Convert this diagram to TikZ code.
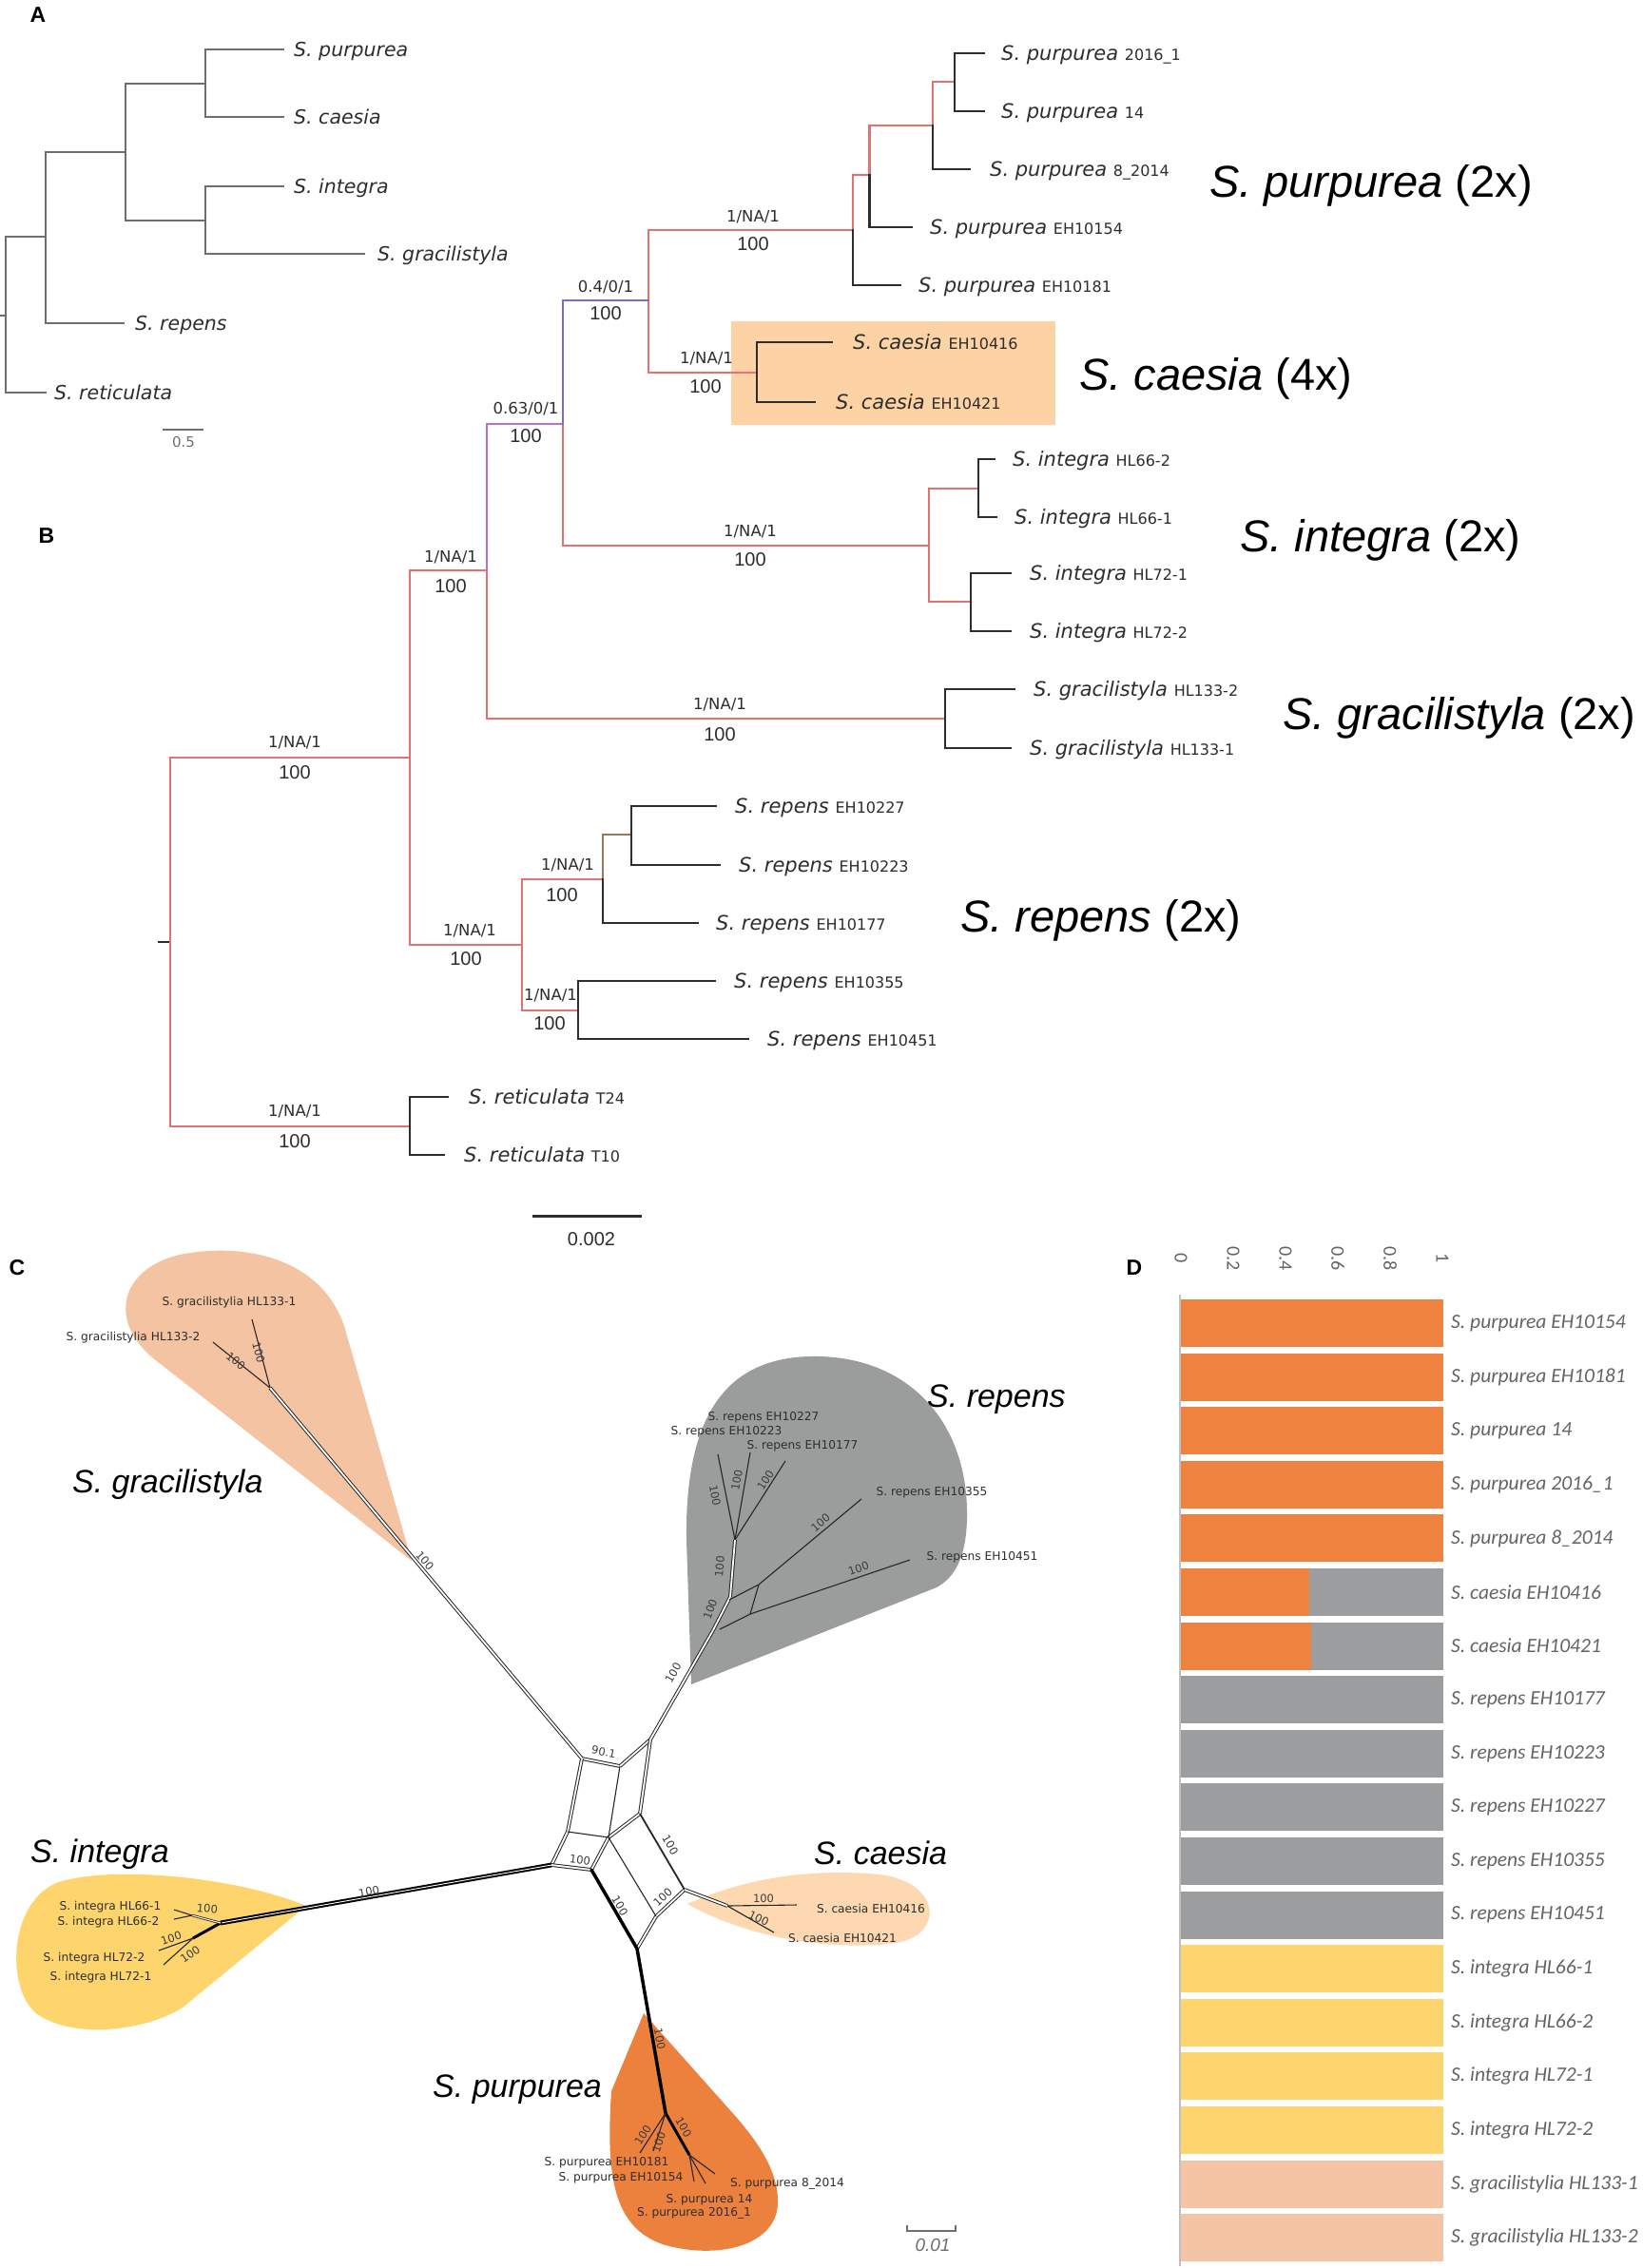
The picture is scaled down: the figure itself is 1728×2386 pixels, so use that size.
\documentclass[tikz,border=0pt]{standalone}
\usepackage{fontspec}
\usepackage{graphicx}
\setmainfont{Liberation Sans}
\newfontfamily\dvf{DejaVu Sans}[ItalicFont={DejaVu Sans Oblique}]
\newfontfamily\carf{Carlito}
\definecolor{tblack}{RGB}{45,45,45}
\definecolor{tred}{RGB}{228,112,112}
\definecolor{tblue}{RGB}{118,110,210}
\definecolor{tmag}{RGB}{182,112,210}
\definecolor{tbrown}{RGB}{150,122,95}
\definecolor{agrey}{RGB}{110,110,110}
\definecolor{boxorange}{RGB}{253,211,165}
\definecolor{corange}{RGB}{236,129,62}
\definecolor{cgrey}{RGB}{155,157,157}
\definecolor{cyellow}{RGB}{253,213,108}
\definecolor{cpeach}{RGB}{244,195,162}
\definecolor{clightpeach}{RGB}{253,216,176}
\definecolor{dorange}{RGB}{238,130,62}
\definecolor{dgrey}{RGB}{155,157,158}
\definecolor{dyellow}{RGB}{253,212,110}
\definecolor{dpeach}{RGB}{244,196,164}
\definecolor{dtext}{RGB}{100,100,100}
\newcommand\spn[2]{{\itshape #1}~{\fontsize{16}{18}\selectfont #2}}
\begin{document}
\begin{tikzpicture}[x=1pt,y=-1pt,
  tl/.style={line width=2.2pt,line cap=rect},
  lineA/.style={line width=2pt,draw=agrey,line cap=rect},
  tipa/.style={anchor=base west,inner sep=0pt,font=\dvf\itshape\fontsize{20.5}{24}\selectfont,text=tblack},
  tipb/.style={anchor=base west,inner sep=0pt,font=\dvf\fontsize{21}{24}\selectfont,text=tblack},
  supp/.style={font=\dvf\fontsize{16.5}{19}\selectfont,text=tblack,inner sep=0pt},
  boot/.style={font=\fontsize{20}{22}\selectfont,text=tblack,inner sep=0pt},
  bigl/.style={anchor=base west,inner sep=0pt,font=\fontsize{47}{52}\selectfont},
  bigc/.style={anchor=base west,inner sep=0pt,font=\itshape\fontsize{34}{38}\selectfont},
  panel/.style={font=\bfseries\fontsize{23}{26}\selectfont,inner sep=0pt},
  csm/.style={font=\dvf\fontsize{12.2}{14}\selectfont,text=tblack,inner sep=0pt},
  cbt/.style={font=\dvf\fontsize{11.5}{13}\selectfont,text={rgb,255:red,60;green,60;blue,60},inner sep=0pt},
  netd/.style={draw=black!85,double=white,double distance=1.8pt,line width=1pt},
  neth/.style={draw=black,line width=3.5pt,line cap=round},
  netthin/.style={draw=black!85,line width=1.1pt},
  dlab/.style={anchor=west,inner sep=0pt,font=\carf\itshape\fontsize{21.5}{24}\selectfont,text=dtext},
  dax/.style={font=\carf\fontsize{20}{22}\selectfont,text=dtext,inner sep=0pt}]
\useasboundingbox (0,0) rectangle (1728,2386);
\fill[white] (0,0) rectangle (1728,2386);

%%%%%%%%%%%%%%%% Panel A
\node[panel] (labA) at (40,16) {A};
\coordinate (aR) at (6,332); \coordinate (aTk) at (0,332);
\coordinate (a1) at (48,249); \coordinate (a2) at (132,160);
\coordinate (a3) at (216,88); \coordinate (a4) at (216,232);
\coordinate (aPur) at (298,52); \coordinate (aCae) at (298,123);
\coordinate (aInt) at (298,196); \coordinate (aGra) at (383,267);
\coordinate (aRep) at (130,340); \coordinate (aRet) at (48,413);
\draw[lineA] (aTk) -- (aR);
\draw[lineA] (aR) |- (a1) (aR) |- (aRet) (a1) |- (a2) (a1) |- (aRep)
  (a2) |- (a3) (a2) |- (a4) (a3) |- (aPur) (a3) |- (aCae) (a4) |- (aInt) (a4) |- (aGra);
\node[tipa] (laPur) at (309,59.5) {S. purpurea};
\node[tipa] (laCae) at (309,130.5) {S. caesia};
\node[tipa] (laInt) at (309,203.5) {S. integra};
\node[tipa] (laGra) at (397,274.5) {S. gracilistyla};
\node[tipa] (laRep) at (142,347.5) {S. repens};
\node[tipa] (laRet) at (57,420.5) {S. reticulata};
\coordinate (asb1) at (171,452); \coordinate (asb2) at (214,452);
\draw[agrey,line width=2pt] (asb1) -- (asb2);
\node[font=\dvf\fontsize{15}{17}\selectfont,text=agrey,inner sep=0pt] (asbl) at (193,465) {0.5};

%%%%%%%%%%%%%%%% Panel B
\node[panel] (labB) at (49,564) {B};
\fill[boxorange] (769,338) rectangle (1110,447);
\coordinate (bR) at (179,991); \coordinate (bTick) at (167,991);
\coordinate (bA) at (431,797); \coordinate (bRet) at (431,1185);
\coordinate (bB) at (512,600); \coordinate (bRep) at (549,994);
\coordinate (bC) at (592,446); \coordinate (bGra) at (994,756);
\coordinate (bD) at (682,316); \coordinate (bInt) at (977,574);
\coordinate (bPur) at (897,242); \coordinate (bCae) at (796,392);
\coordinate (bP2) at (914.5,184); \coordinate (bP3) at (981,132); \coordinate (bP4) at (1004,86);
\coordinate (bI1) at (1029,514); \coordinate (bI2) at (1021,633);
\coordinate (bR1) at (634,925); \coordinate (bR2) at (608,1063); \coordinate (bR3) at (664,878);
\coordinate (t1) at (1035,56); \coordinate (t2) at (1035,117); \coordinate (t3) at (1020,178);
\coordinate (t4) at (959,239); \coordinate (t5) at (947,300); \coordinate (t6) at (875,360);
\coordinate (t7) at (857,423); \coordinate (t8) at (1046,483); \coordinate (t9) at (1048,544);
\coordinate (t10) at (1063,603); \coordinate (t11) at (1063,664); \coordinate (t12) at (1067,725);
\coordinate (t13) at (1063,787); \coordinate (t14) at (753,848); \coordinate (t15) at (757,910);
\coordinate (t16) at (734,971); \coordinate (t17) at (752,1032); \coordinate (t18) at (787,1093);
\coordinate (t19) at (471,1154); \coordinate (t20) at (467,1215);
\draw[tl,tblack] (bTick) -- (bR);
\draw[tl,tred] (bR) |- (bA) (bR) |- (bRet) (bA) |- (bB) (bA) |- (bRep)
  (bB) |- (bGra) (bC) |- (bInt) (bD) |- (bPur) (bD) |- (bCae)
  (bPur) |- (bP2) (bP2) |- (bP3) (bP3) |- (bP4) (bInt) |- (bI1) (bInt) |- (bI2)
  (bRep) |- (bR1) (bRep) |- (bR2);
\draw[tl,tmag] (bB) |- (bC);
\draw[tl,tblue] (bC) |- (bD);
\draw[tl,tbrown] (bR1) |- (bR3);
\draw[tl,tblack] (bPur) |- (t5) (bP2) |- (t4) (bP3) |- (t3) (bP4) |- (t1) (bP4) |- (t2)
  (bCae) |- (t6) (bCae) |- (t7) (bI1) |- (t8) (bI1) |- (t9) (bI2) |- (t10) (bI2) |- (t11)
  (bGra) |- (t12) (bGra) |- (t13) (bR3) |- (t14) (bR3) |- (t15) (bR1) |- (t16)
  (bR2) |- (t17) (bR2) |- (t18) (bRet) |- (t19) (bRet) |- (t20);
% tip labels
\node[tipb] (lb1) at (1053,63.5) {\spn{S. purpurea}{2016\_1}};
\node[tipb] (lb2) at (1053,124.5) {\spn{S. purpurea}{14}};
\node[tipb] (lb3) at (1041,185.5) {\spn{S. purpurea}{8\_2014}};
\node[tipb] (lb4) at (978,246.5) {\spn{S. purpurea}{EH10154}};
\node[tipb] (lb5) at (966,307.5) {\spn{S. purpurea}{EH10181}};
\node[tipb] (lb6) at (897,367.5) {\spn{S. caesia}{EH10416}};
\node[tipb] (lb7) at (879,430.5) {\spn{S. caesia}{EH10421}};
\node[tipb] (lb8) at (1065,490.5) {\spn{S. integra}{HL66-2}};
\node[tipb] (lb9) at (1067,551.5) {\spn{S. integra}{HL66-1}};
\node[tipb] (lb10) at (1083,610.5) {\spn{S. integra}{HL72-1}};
\node[tipb] (lb11) at (1083,671.5) {\spn{S. integra}{HL72-2}};
\node[tipb] (lb12) at (1087,732.5) {\spn{S. gracilistyla}{HL133-2}};
\node[tipb] (lb13) at (1083,794.5) {\spn{S. gracilistyla}{HL133-1}};
\node[tipb] (lb14) at (773,855.5) {\spn{S. repens}{EH10227}};
\node[tipb] (lb15) at (777,917.5) {\spn{S. repens}{EH10223}};
\node[tipb] (lb16) at (753,978.5) {\spn{S. repens}{EH10177}};
\node[tipb] (lb17) at (772,1039.5) {\spn{S. repens}{EH10355}};
\node[tipb] (lb18) at (807,1100.5) {\spn{S. repens}{EH10451}};
\node[tipb] (lb19) at (493,1161.5) {\spn{S. reticulata}{T24}};
\node[tipb] (lb20) at (488,1222.5) {\spn{S. reticulata}{T10}};
% support labels
\node[supp] (s1) at (637,302) {0.4/0/1}; \node[boot] (bt1) at (637,330) {100};
\node[supp] (s2) at (553,430) {0.63/0/1}; \node[boot] (bt2) at (553,459) {100};
\node[supp] (s3) at (792,228) {1/NA/1}; \node[boot] (bt3) at (792,257) {100};
\node[supp] (s4) at (743,377) {1/NA/1}; \node[boot] (bt4) at (742,407) {100};
\node[supp] (s5) at (789,559) {1/NA/1}; \node[boot] (bt5) at (789,589) {100};
\node[supp] (s6) at (474,586) {1/NA/1}; \node[boot] (bt6) at (474,617) {100};
\node[supp] (s7) at (757,741) {1/NA/1}; \node[boot] (bt7) at (757,773) {100};
\node[supp] (s8) at (310,781) {1/NA/1}; \node[boot] (bt8) at (310,813) {100};
\node[supp] (s9) at (494,979) {1/NA/1}; \node[boot] (bt9) at (490,1009) {100};
\node[supp] (s10) at (597,910) {1/NA/1}; \node[boot] (bt10) at (591,942) {100};
\node[supp] (s11) at (579,1047) {1/NA/1}; \node[boot] (bt11) at (578,1077) {100};
\node[supp] (s12) at (310,1169) {1/NA/1}; \node[boot] (bt12) at (310,1201) {100};
% big labels
\node[bigl] (gb1) at (1272,207) {{\itshape S. purpurea} (2x)};
\node[bigl] (gb2) at (1135,410) {{\itshape S. caesia} (4x)};
\node[bigl] (gb3) at (1304,580) {{\itshape S. integra} (2x)};
\node[bigl] (gb4) at (1349,767) {{\itshape S. gracilistyla} (2x)};
\node[bigl] (gb5) at (1010,980) {{\itshape S. repens} (2x)};
% scale
\coordinate (bsb1) at (560,1279); \coordinate (bsb2) at (675,1279);
\draw[tblack,line width=3pt] (bsb1) -- (bsb2);
\node[boot] (bsbl) at (622,1304) {0.002};

%%%%%%%%%%%%%%%% Panel C
\node[panel] (labC) at (18,1334) {C};
\fill[cpeach] (433,1642) -- (362,1395) .. controls (340,1330) and (270,1308) .. (200,1318)
  .. controls (130,1328) and (110,1385) .. (160,1428) -- cycle;
\fill[cgrey] (727,1772) -- (722,1620) .. controls (720,1480) and (770,1430) .. (850,1427)
  .. controls (950,1424) and (1015,1490) .. (1017,1588) .. controls (1018,1640) and (1003,1660) .. (985,1670) -- cycle;
\fill[clightpeach] (723,2003) .. controls (790,1973) and (860,1966) .. (925,1972)
  .. controls (992,1980) and (995,2040) .. (935,2045) .. controls (860,2052) and (780,2035) .. (723,2003) -- cycle;
\fill[cyellow] (322,2005) .. controls (250,1975) and (120,1962) .. (62,1980)
  .. controls (10,1998) and (5,2090) .. (38,2118) .. controls (75,2145) and (150,2138) .. (192,2112) -- cycle;
\fill[corange] (677,2118) -- (643,2200) .. controls (637,2290) and (645,2345) .. (700,2362)
  .. controls (760,2378) and (817,2360) .. (818,2318) .. controls (819,2285) and (798,2255) .. (775,2228) -- cycle;
% network nodes
\coordinate (G) at (612,1850); \coordinate (P) at (652,1858); \coordinate (Rj) at (684,1830);
\coordinate (Q) at (673,1908); \coordinate (H) at (597,1927); \coordinate (M) at (640,1933);
\coordinate (L) at (580,1962); \coordinate (K) at (622,1967); \coordinate (Cc) at (720,1988);
\coordinate (Dd) at (690,2016); \coordinate (Bb) at (670,2050);
\coordinate (GN) at (284,1460); \coordinate (RN) at (750,1715); \coordinate (IN) at (232,2023);
\coordinate (CN) at (765,2005); \coordinate (PN) at (700,2223);
\draw[netd] (G) -- (P); \draw[netd] (P) -- (Rj); \draw[netd] (Rj) -- (Q);
\draw[netd] (G) -- (H); \draw[netd] (H) -- (L); \draw[netd] (L) -- (K);
\draw[netd] (M) -- (K); \draw[netd] (Q) -- (M); \draw[netd] (Cc) -- (Dd); \draw[netd] (Bb) -- (Dd);
\draw[netthin] (P) -- (M); \draw[netthin] (H) -- (M); \draw[netthin] (M) -- (Dd);
\draw[netthin,line width=1.8pt] (Q) -- (Cc);
\draw[neth] (K) -- (Bb); \draw[neth] (Bb) -- (PN);
\draw[netd] (G) -- (GN);
\draw[netd] (Rj) -- (RN);
\draw[netd,draw=black,line width=2pt,double distance=0.9pt] (L) -- (IN);
\draw[netd] (Cc) -- (CN);
% gracilistyla tips
\coordinate (gt1) at (265,1388); \coordinate (gt2) at (224,1412);
\draw[netthin] (GN) -- (gt1); \draw[netthin] (GN) -- (gt2);
% repens
\coordinate (RN2) at (768,1680); \coordinate (RN3) at (773,1620);
\coordinate (rt1) at (755,1530); \coordinate (rt2) at (789,1528); \coordinate (rt3) at (826,1537);
\coordinate (rb1) at (767,1683); \coordinate (rb2) at (798,1667); \coordinate (rb3) at (789,1698);
\coordinate (rb4) at (757,1714); \coordinate (rt4) at (906,1577); \coordinate (rt5) at (957,1641);
\draw[netd] (RN) -- (RN2); \draw[netd] (RN2) -- (RN3);
\draw[netthin] (RN3) -- (rt1); \draw[netthin] (RN3) -- (rt2); \draw[netthin] (RN3) -- (rt3);
\draw[netthin] (rb1) -- (rb2) -- (rt4); \draw[netthin] (rb4) -- (rb3) -- (rt5); \draw[netthin] (rb2) -- (rb3);
% caesia
\coordinate (ct1) at (838,2004); \coordinate (ct2) at (814,2033);
\draw[netthin] (CN) -- (ct1); \draw[netthin] (CN) -- (ct2);
% purpurea
\coordinate (PN2) at (725,2267); \coordinate (pt1) at (673,2265); \coordinate (pt2) at (687,2263);
\coordinate (pt3) at (752,2287); \coordinate (pt4) at (742,2297); \coordinate (pt5) at (730,2295);
\draw[neth,line width=3pt] (PN) -- (PN2);
\draw[netthin] (PN) -- (pt1); \draw[netthin] (PN) -- (pt2);
\draw[netthin] (PN2) -- (pt3); \draw[netthin] (PN2) -- (pt4); \draw[netthin] (PN2) -- (pt5);
% integra
\coordinate (IN2) at (203,2039); \coordinate (ib) at (202,2015);
\coordinate (it1) at (183,2009); \coordinate (it2) at (183,2019);
\coordinate (it3) at (167,2052); \coordinate (it4) at (172,2067);
\draw[neth,line width=3pt] (IN) -- (IN2);
\draw[netd,line width=0.8pt,double distance=1pt] (IN) -- (ib);
\draw[netthin] (ib) -- (it1); \draw[netthin] (ib) -- (it2);
\draw[netthin] (IN2) -- (it3); \draw[netthin] (IN2) -- (it4);
% small labels
\node[csm] (cl1) at (241,1370) {S. gracilistylia HL133-1};
\node[csm] (cl2) at (140,1407) {S. gracilistylia HL133-2};
\node[csm] (cl3) at (803,1491) {S. repens EH10227};
\node[csm] (cl4) at (764,1506) {S. repens EH10223};
\node[csm] (cl5) at (844,1521) {S. repens EH10177};
\node[csm] (cl6) at (980,1570) {S. repens EH10355};
\node[csm] (cl7) at (1033,1638) {S. repens EH10451};
\node[csm] (cl8) at (916,2008) {S. caesia EH10416};
\node[csm] (cl9) at (886,2039) {S. caesia EH10421};
\node[csm] (cl10) at (116,2006) {S. integra HL66-1};
\node[csm] (cl11) at (114,2022) {S. integra HL66-2};
\node[csm] (cl12) at (99,2060) {S. integra HL72-2};
\node[csm] (cl13) at (106,2080) {S. integra HL72-1};
\node[csm] (cl14) at (638,2275) {S. purpurea EH10181};
\node[csm] (cl15) at (653,2291) {S. purpurea EH10154};
\node[csm] (cl16) at (828,2297) {S. purpurea 8\_2014};
\node[csm] (cl17) at (746,2314) {S. purpurea 14};
\node[csm] (cl18) at (730,2328) {S. purpurea 2016\_1};
% bootstrap values
\node[cbt,rotate=-75] (cb1) at (272,1423) {100};
\node[cbt,rotate=-39] (cb2) at (248,1432) {100};
\node[cbt,rotate=-50] (cb3) at (447,1642) {100};
\node[cbt,rotate=60] (cb4) at (708,1760) {100};
\node[cbt,rotate=70] (cb5) at (747,1693) {100};
\node[cbt,rotate=85] (cb6) at (757,1648) {100};
\node[cbt,rotate=-79] (cb7) at (752,1573) {100};
\node[cbt,rotate=80] (cb8) at (775,1557) {100};
\node[cbt,rotate=57] (cb9) at (805,1557) {100};
\node[cbt,rotate=40] (cb10) at (863,1602) {100};
\node[cbt,rotate=19] (cb11) at (903,1650) {100};
\node[cbt] (cb12) at (803,1997) {100};
\node[cbt,rotate=-25] (cb13) at (798,2018) {100};
\node[cbt,rotate=10] (cb14) at (388,1990) {100};
\node[cbt,rotate=-5] (cb15) at (218,2008) {100};
\node[cbt,rotate=18] (cb16) at (180,2039) {100};
\node[cbt,rotate=35] (cb17) at (200,2056) {100};
\node[cbt,rotate=-10] (cb18) at (635,1843) {90.1};
\node[cbt,rotate=-7] (cb19) at (610,1957) {100};
\node[cbt,rotate=-60] (cb20) at (705,1941) {100};
\node[cbt,rotate=43] (cb21) at (697,1996) {100};
\node[cbt,rotate=-60] (cb22) at (652,2005) {100};
\node[cbt,rotate=-80] (cb23) at (694,2145) {100};
\node[cbt,rotate=57] (cb24) at (676,2246) {100};
\node[cbt,rotate=72] (cb25) at (693,2254) {100};
\node[cbt,rotate=-60] (cb26) at (719,2238) {100};
% big labels
\node[bigc] (gc1) at (76,1570) {S. gracilistyla};
\node[bigc] (gc2) at (975,1480) {S. repens};
\node[bigc] (gc3) at (32,1959) {S. integra};
\node[bigc] (gc4) at (856,1961) {S. caesia};
\node[bigc] (gc5) at (455,2206) {S. purpurea};
% scale
\coordinate (csb1) at (954,2347); \coordinate (csb2) at (1005,2347);
\draw[agrey,line width=1.2pt] ([yshift=6pt]csb1) -- (csb1) -- (csb2) -- ([yshift=6pt]csb2);
\node[font=\itshape\fontsize{19}{21}\selectfont,text=agrey,inner sep=0pt] (csbl) at (981,2362) {0.01};

%%%%%%%%%%%%%%%% Panel D
\node[panel] (labD) at (1193,1334) {D};
\foreach \lab/\col [count=\i from 0] in {
  S. purpurea EH10154/dorange, S. purpurea EH10181/dorange, S. purpurea 14/dorange,
  S. purpurea 2016\_1/dorange, S. purpurea 8\_2014/dorange, S. caesia EH10416/dgrey,
  S. caesia EH10421/dgrey, S. repens EH10177/dgrey, S. repens EH10223/dgrey,
  S. repens EH10227/dgrey, S. repens EH10355/dgrey, S. repens EH10451/dgrey,
  S. integra HL66-1/dyellow, S. integra HL66-2/dyellow, S. integra HL72-1/dyellow,
  S. integra HL72-2/dyellow, S. gracilistylia HL133-1/dpeach, S. gracilistylia HL133-2/dpeach}
{
  \pgfmathsetmacro\yt{1367+56.6*\i}
  \coordinate (db\i a) at (1242,\yt);
  \coordinate (db\i b) at (1518,\yt+50);
  \fill[\col] (db\i a) rectangle (db\i b);
  \node[dlab] (dl\i) at (1526,\yt+25) {\lab};
}
\coordinate (dc5) at (1377,1700); \coordinate (dc6) at (1379,1756.6);
\fill[dorange] (db5a) rectangle (dc5);
\fill[dorange] (db6a) rectangle (dc6);
\coordinate (dax1) at (1241,1362); \coordinate (dax2) at (1241,2384);
\draw[black!25,line width=1.5pt] (dax1) -- (dax2);
\foreach \v/\x [count=\j] in {0/1242,0.2/1297,0.4/1352,0.6/1407,0.8/1462,1/1517}
  {\node[dax,rotate=-90] (dx\j) at (\x,1324) {\v};}
\end{tikzpicture}
\end{document}
